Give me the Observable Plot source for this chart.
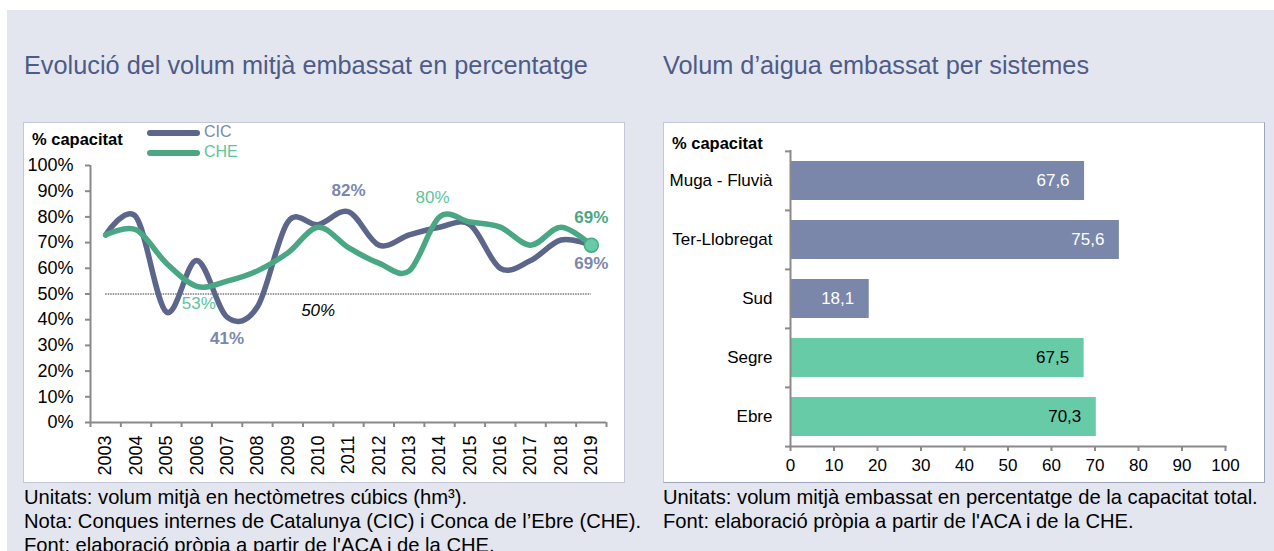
<!DOCTYPE html>
<html>
<head>
<meta charset="utf-8">
<script src="https://cdn.jsdelivr.net/npm/d3@7"></script>
<script src="https://cdn.jsdelivr.net/npm/@observablehq/plot@0.6"></script>
<style>
  html, body { margin: 0; padding: 0; }
  body { width: 1274px; height: 551px; overflow: hidden; background: #fff; position: relative; font-family: "Liberation Sans", Arial, sans-serif; }
  #bg { position: absolute; left: 7px; top: 10px; width: 1267px; height: 541px; background: #e3e6ee; }
  .title { position: absolute; top: 53px; font-size: 25.3px; line-height: 25px; color: #4e5b87; white-space: nowrap; }
  .box { position: absolute; top: 122px; width: 600px; height: 359px; background: #fff; border: 1px solid #c3c8da; }
  .box svg { position: absolute; left: 0; top: 0; }
  .unit { position: absolute; font-weight: bold; font-size: 16.5px; line-height: 18px; color: #000; white-space: nowrap; }
  .leg { position: absolute; height: 18px; line-height: 18px; font-size: 16px; white-space: nowrap; }
  .sw { position: absolute; height: 5.5px; border-radius: 3px; }
  .foot { position: absolute; font-family: "Liberation Sans", Arial, sans-serif; font-size: 20.2px; line-height: 24px; color: #000; white-space: nowrap; }
</style>
</head>
<body>
<div id="bg"></div>
<div class="title" style="left:24px">Evolució del volum mitjà embassat en percentatge</div>
<div class="title" style="left:663px">Volum d’aigua embassat per sistemes</div>

<div class="box" id="leftBox" style="left:23px">
</div>
<div class="box" id="rightBox" style="left:663px; border-right-color:#9ea6be; border-bottom-color:#9ea6be;">
</div>

<div class="foot" style="left:24px; top:485px">Unitats: volum mitjà en hectòmetres cúbics (hm³).<br>Nota: Conques internes de Catalunya (CIC) i Conca de l’Ebre (CHE).<br>Font: elaboració pròpia a partir de l'ACA i de la CHE.</div>
<div class="foot" style="left:663px; top:485px">Unitats: volum mitjà embassat en percentatge de la capacitat total.<br>Font: elaboració pròpia a partir de l'ACA i de la CHE.</div>

<script>
// ---------- data ----------
const years = [2003, 2004, 2005, 2006, 2007, 2008, 2009, 2010, 2011, 2012, 2013, 2014, 2015, 2016, 2017, 2018, 2019];
const cicValues = [73, 80, 43, 63, 41, 45, 78, 77, 82, 69, 73, 76, 77, 60, 63, 71, 69];
const cheValues = [73, 75, 62, 53, 55, 59, 66, 76, 68, 62, 59, 80, 78, 76, 69, 76, 69];
const seriesNames = ["CIC", "CHE"];
const percentTicks = [0, 10, 20, 30, 40, 50, 60, 70, 80, 90, 100];
const thresholdValue = 50;

const systemNames = ["Muga - Fluvià", "Ter-Llobregat", "Sud", "Segre", "Ebre"];
const systemValues = [67.6, 75.6, 18.1, 67.5, 70.3];
const systemBasins = ["CIC", "CIC", "CIC", "CHE", "CHE"];
const capacityTicks = [0, 10, 20, 30, 40, 50, 60, 70, 80, 90, 100];

// ---------- styles ----------
const cicLine = "#5c668b", cheLine = "#4aa784";
const cicLabel = "#7c87ae", cheLabel = "#5cc59b";
const barBlue = "#7a87ab", barGreen = "#67cba8";
const axisGray = "#8a8a8a";
const font = '"Liberation Sans", Arial, sans-serif';

// ---------- left chart ----------
const cicData = years.map((year, i) => ({year, value: cicValues[i]}));
const cheData = years.map((year, i) => ({year, value: cheValues[i]}));
const yearBounds = years.map(y => y - 0.5).concat([years[years.length - 1] + 0.5]);
const pct = d => d + "%";
const smooth = d3.curveCatmullRom.alpha(0);
const last = years.length - 1;

const left = Plot.plot({
  width: 600, height: 359,
  marginLeft: 66, marginRight: 18, marginTop: 42, marginBottom: 60,
  style: {fontFamily: font, fontSize: "17px", color: "#000", background: "transparent", overflow: "visible"},
  x: {domain: [yearBounds[0], yearBounds[yearBounds.length - 1]], axis: null, label: null},
  y: {domain: [percentTicks[0], percentTicks[percentTicks.length - 1]], axis: null, label: null},
  marks: [
    Plot.ruleY([thresholdValue], {x1: years[0], x2: years[last], stroke: "#000", strokeWidth: 0.8, strokeDasharray: "1.5,1"}),
    Plot.axisY({ticks: percentTicks, tickSize: 5, tickPadding: 12, tickFormat: pct, stroke: axisGray, strokeWidth: 2, fill: "#000", fontSize: 18, label: null}),
    Plot.axisX({ticks: yearBounds, tickSize: 5, tickFormat: () => "", stroke: axisGray, strokeWidth: 2, label: null}),
    Plot.axisX({ticks: years, tickSize: 0, tickPadding: 13, tickRotate: -90, tickFormat: d => String(d), fill: "#000", fontSize: 18, label: null}),
    Plot.ruleX([yearBounds[0]], {stroke: axisGray, strokeWidth: 2}),
    Plot.ruleY([percentTicks[0]], {stroke: axisGray, strokeWidth: 2}),
    Plot.line(cicData, {x: "year", y: "value", stroke: cicLine, strokeWidth: 5.5, curve: smooth}),
    Plot.line(cheData, {x: "year", y: "value", stroke: cheLine, strokeWidth: 5.5, curve: smooth}),
    Plot.dot([cheData[last]], {x: "year", y: "value", r: 7, fill: barGreen, stroke: cheLine, strokeWidth: 1.5}),
    // annotations
    Plot.text([cicData[8]], {x: "year", y: "value", text: d => pct(d.value), dy: -21, fill: cicLabel, fontWeight: "bold"}),
    Plot.text([cicData[4]], {x: "year", y: "value", text: d => pct(d.value), dy: 21, fill: cicLabel, fontWeight: "bold"}),
    Plot.text([cheData[3]], {x: "year", y: "value", text: d => pct(d.value), dy: 17, dx: 2, fill: cheLabel}),
    Plot.text([cheData[11]], {x: "year", y: "value", text: d => pct(d.value), dy: -19, dx: -7, fill: cheLabel}),
    Plot.text([cheData[last]], {x: "year", y: "value", text: d => pct(d.value), dy: -28, fill: cheLine, fontWeight: "bold"}),
    Plot.text([cicData[last]], {x: "year", y: "value", text: d => pct(d.value), dy: 18, fill: cicLabel, fontWeight: "bold"}),
    Plot.text([{year: years[7], value: thresholdValue}], {x: "year", y: "value", text: d => pct(d.value), dy: 17, fill: "#000", fontStyle: "italic"})
  ]
});
document.getElementById("leftBox").appendChild(left);

// legend + unit label (left)
const lb = document.getElementById("leftBox");
lb.insertAdjacentHTML("beforeend",
  `<div class="unit" style="left:8px; top:7px">% capacitat</div>` +
  `<div class="sw" style="left:123px; top:7px; width:53px; background:${cicLine}"></div>` +
  `<div class="leg" style="left:180px; top:0px; color:${cicLabel}">${seriesNames[0]}</div>` +
  `<div class="sw" style="left:123px; top:27px; width:53px; background:${cheLine}"></div>` +
  `<div class="leg" style="left:180px; top:20px; color:${cheLabel}">${seriesNames[1]}</div>`);

// ---------- right chart ----------
const systemData = systemNames.map((name, i) => ({name, value: systemValues[i], basin: systemBasins[i]}));
const comma = d => d.value.toFixed(1).replace(".", ",");
const innerH = 359 - 27 - 36;
const step = innerH / systemNames.length;

const right = Plot.plot({
  width: 600, height: 359,
  marginLeft: 126, marginRight: 39, marginTop: 27, marginBottom: 36,
  style: {fontFamily: font, fontSize: "17px", color: "#000", background: "transparent", overflow: "visible"},
  x: {domain: [capacityTicks[0], capacityTicks[capacityTicks.length - 1]], axis: null, label: null},
  y: {domain: systemNames, axis: null, label: null, paddingInner: 0.34, paddingOuter: 0.17},
  color: {domain: seriesNames, range: [barBlue, barGreen]},
  marks: [
    Plot.barX(systemData, {x: "value", y: "name", fill: "basin"}),
    Plot.text(systemData.filter(d => d.basin === seriesNames[0]), {x: "value", y: "name", text: comma, textAnchor: "end", dx: -15, fill: "#fff"}),
    Plot.text(systemData.filter(d => d.basin === seriesNames[1]), {x: "value", y: "name", text: comma, textAnchor: "end", dx: -15, fill: "#000"}),
    Plot.axisY({tickSize: 0, tickPadding: 18, fill: "#000", label: null}),
    Plot.axisY({tickSize: 5, tickFormat: () => "", dy: -step / 2, stroke: axisGray, strokeWidth: 2, label: null}),
    Plot.axisY({ticks: [systemNames[systemNames.length - 1]], tickSize: 5, tickFormat: () => "", dy: step / 2, stroke: axisGray, strokeWidth: 2, label: null}),
    Plot.axisX({ticks: capacityTicks, tickSize: 5, tickPadding: 7, stroke: axisGray, strokeWidth: 2, fill: "#000", label: null}),
    Plot.ruleX([capacityTicks[0]], {stroke: axisGray, strokeWidth: 2}),
    Plot.frame({anchor: "bottom", stroke: axisGray, strokeWidth: 2})
  ]
});
document.getElementById("rightBox").appendChild(right);
document.getElementById("rightBox").insertAdjacentHTML("beforeend",
  `<div class="unit" style="left:8px; top:11px">% capacitat</div>`);
</script>
</body>
</html>
